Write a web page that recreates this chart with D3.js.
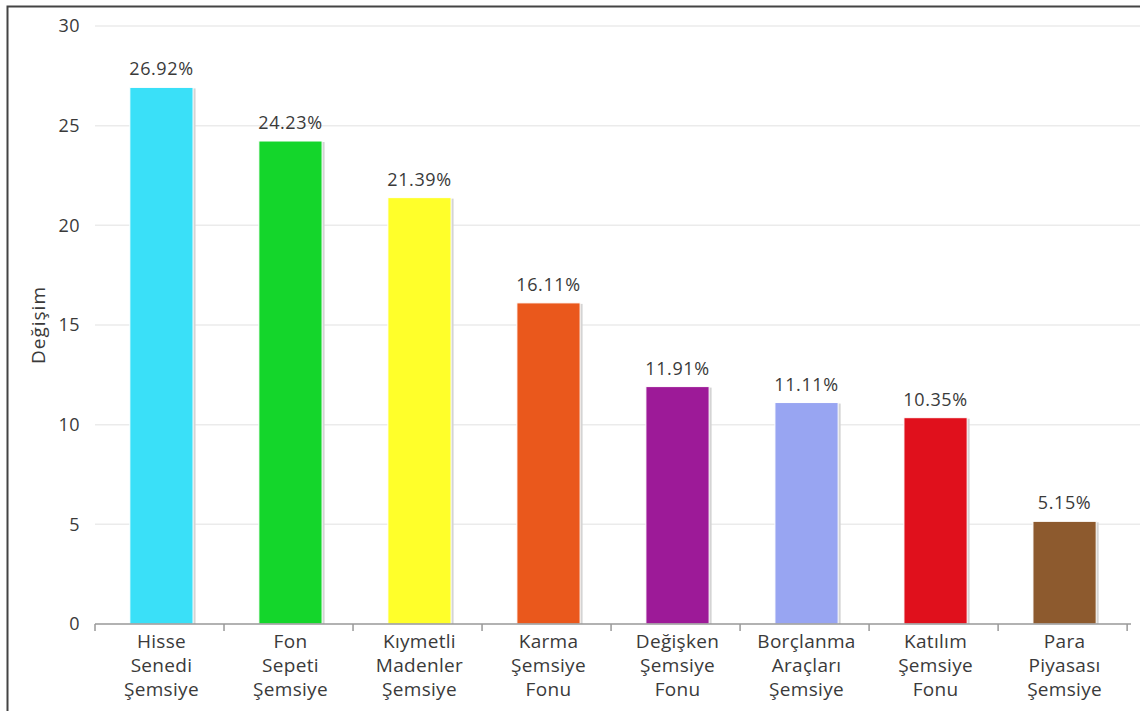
<!DOCTYPE html>
<html>
<head>
<meta charset="utf-8">
<script src="https://cdn.jsdelivr.net/npm/d3@7"></script>
<style>
  body { margin: 0; background: #fff; }
  svg { display: block; font-family: "Open Sans", "DejaVu Sans", sans-serif; }
</style>
</head>
<body>
<svg id="chart"></svg>
<script>
// chart data
let categories = [
    ["Hisse", "Senedi", "Şemsiye"],
    ["Fon", "Sepeti", "Şemsiye"],
    ["Kıymetli", "Madenler", "Şemsiye"],
    ["Karma", "Şemsiye", "Fonu"],
    ["Değişken", "Şemsiye", "Fonu"],
    ["Borçlanma", "Araçları", "Şemsiye"],
    ["Katılım", "Şemsiye", "Fonu"],
    ["Para", "Piyasası", "Şemsiye"]
];
let values = [26.92, 24.23, 21.39, 16.11, 11.91, 11.11, 10.35, 5.15];
let colors = ["#3ae0f8", "#14d62b", "#ffff2a", "#ea581c", "#9d1a98", "#98a5f2", "#e0101c", "#8d5a2e"];
let yTicks = [0, 5, 10, 15, 20, 25, 30];

let svgWidth = 1140, svgHeight = 711;
let margin = {top: 26, left: 95, bottom: 87, right: 9};
let width = svgWidth - margin.left - margin.right;
let height = svgHeight - margin.top - margin.bottom;

let svg = d3.select("#chart")
    .attr("width", svgWidth)
    .attr("height", svgHeight);

// frame (top and left only)
svg.append("path")
    .attr("d", "M7.5," + svgHeight + "V6.5H" + svgWidth)
    .attr("fill", "none")
    .attr("stroke", "#444")
    .attr("stroke-width", 2);

let g = svg.append("g")
    .attr("transform", "translate(" + margin.left + "," + margin.top + ")");

let x = d3.scaleBand()
    .domain(d3.range(values.length))
    .range([0, width])
    .paddingInner(0.51)
    .paddingOuter(0.27);

let y = d3.scaleLinear()
    .domain([0, 30])
    .range([height, 0]);

// grid lines
g.append("g")
    .selectAll("line")
    .data(yTicks.slice(1))
    .enter().append("line")
    .attr("x1", 0)
    .attr("x2", svgWidth - margin.left)
    .attr("y1", d => y(d))
    .attr("y2", d => y(d))
    .attr("stroke", "#ebebeb")
    .attr("stroke-width", 1.5);

// y axis labels
let yAxis = g.append("g")
    .call(d3.axisLeft(y).tickValues(yTicks).tickSize(0).tickPadding(15));
yAxis.select(".domain").remove();
yAxis.selectAll("text")
    .attr("font-size", 18)
    .attr("font-family", "Open Sans, DejaVu Sans, sans-serif")
    .attr("letter-spacing", 0.5)
    .attr("fill", "#3a3a3a");

g.append("text")
    .attr("transform", "translate(-50," + (height / 2) + ") rotate(-90)")
    .attr("text-anchor", "middle")
    .attr("font-size", 19)
    .attr("letter-spacing", 1)
    .attr("fill", "#3a3a3a")
    .text("Değişim");

// bars with a small shadow
let bars = g.append("g").selectAll("g")
    .data(values)
    .enter().append("g");

bars.append("rect")
    .attr("x", (d, i) => x(i) + 2.5)
    .attr("y", d => y(d) + 1)
    .attr("width", x.bandwidth())
    .attr("height", d => height - y(d) - 1)
    .attr("fill", "#d4d4d4");

bars.append("rect")
    .attr("x", (d, i) => x(i))
    .attr("y", d => y(d))
    .attr("width", x.bandwidth())
    .attr("height", d => height - y(d))
    .attr("fill", (d, i) => colors[i])
    .attr("stroke", "#fff")
    .attr("stroke-width", 1);

bars.append("text")
    .attr("x", (d, i) => x(i) + x.bandwidth() / 2)
    .attr("y", d => y(d) - 12)
    .attr("text-anchor", "middle")
    .attr("font-size", 18)
    .attr("letter-spacing", 0.6)
    .attr("fill", "#3a3a3a")
    .text(d => d.toFixed(2) + "%");

// x axis with ticks at band edges
let edges = d3.range(values.length + 1).map(i => i * x.step());
let xAxis = g.append("g")
    .attr("transform", "translate(0," + height + ")");
xAxis.append("line")
    .attr("x1", 0).attr("x2", width)
    .attr("stroke", "#999").attr("stroke-width", 1.5);
xAxis.selectAll(".tick")
    .data(edges)
    .enter().append("line")
    .attr("x1", d => d).attr("x2", d => d)
    .attr("y1", 0).attr("y2", 7)
    .attr("stroke", "#999").attr("stroke-width", 1.5);

xAxis.selectAll(".lbl")
    .data(categories)
    .enter().append("text")
    .attr("text-anchor", "middle")
    .attr("font-size", 19)
    .attr("letter-spacing", 0.3)
    .attr("fill", "#3a3a3a")
    .attr("transform", (d, i) => "translate(" + (x(i) + x.bandwidth() / 2) + ",0)")
    .selectAll("tspan")
    .data(d => d)
    .enter().append("tspan")
    .attr("x", 0)
    .attr("y", (d, j) => 24 + j * 24)
    .text(d => d);
</script>
</body>
</html>
